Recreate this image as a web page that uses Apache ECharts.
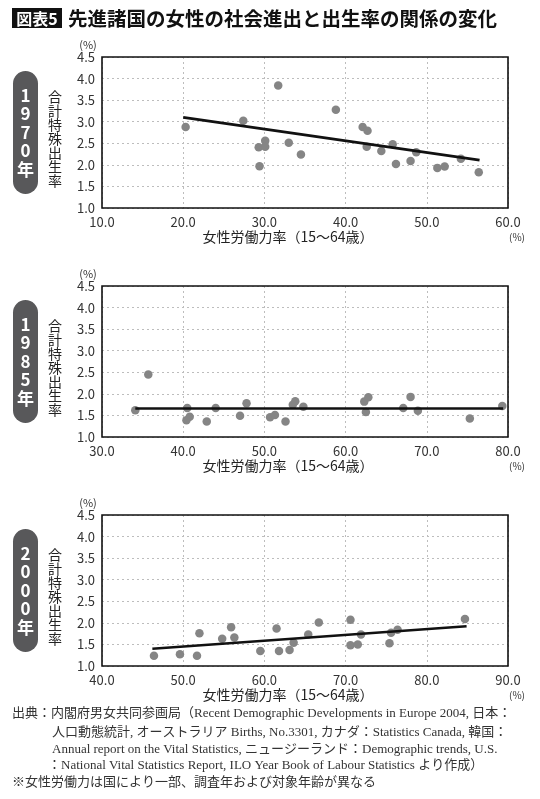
<!DOCTYPE html>
<html><head><meta charset="utf-8">
<script src="https://cdn.jsdelivr.net/npm/echarts@6/dist/echarts.min.js"></script>
<style>html,body{margin:0;padding:0;background:#fff}#c{width:540px;height:799px}</style>
</head><body><div id="c"></div><script>
// ---- data ----
const years = ['1970', '1985', '2000'];
const x1970 = [20.3, 27.4, 31.7, 29.3, 29.4, 30.1, 30.1, 33.0, 34.5, 38.8, 42.1, 42.7, 42.6, 44.4, 45.8, 46.2, 48.0, 48.7, 51.3, 52.2, 54.2, 56.4];
const y1970 = [2.88, 3.02, 3.84, 2.41, 1.97, 2.56, 2.42, 2.51, 2.24, 3.28, 2.88, 2.79, 2.42, 2.32, 2.48, 2.02, 2.09, 2.29, 1.93, 1.96, 2.14, 1.83];
const trendX1970 = [20.0, 56.5];
const trendY1970 = [3.10, 2.11];

const x1985 = [34.1, 35.7, 40.5, 40.4, 40.8, 42.9, 44.0, 47.0, 47.8, 50.7, 51.3, 52.6, 53.5, 53.8, 54.8, 62.3, 62.8, 62.5, 67.1, 68.0, 68.9, 75.3, 79.3];
const y1985 = [1.62, 2.45, 1.67, 1.39, 1.47, 1.36, 1.67, 1.49, 1.78, 1.46, 1.51, 1.36, 1.75, 1.83, 1.70, 1.82, 1.92, 1.58, 1.67, 1.93, 1.61, 1.43, 1.72];
const trendX1985 = [34.1, 79.4];
const trendY1985 = [1.66, 1.66];

const x2000 = [46.4, 49.6, 51.7, 52.0, 54.8, 55.9, 56.3, 59.5, 61.5, 61.8, 63.1, 63.6, 65.4, 66.7, 70.6, 70.6, 71.5, 71.9, 75.4, 75.6, 76.4, 84.7];
const y2000 = [1.24, 1.27, 1.24, 1.76, 1.63, 1.90, 1.66, 1.35, 1.87, 1.35, 1.37, 1.54, 1.73, 2.01, 2.07, 1.48, 1.50, 1.73, 1.53, 1.77, 1.84, 2.09];
const trendX2000 = [46.2, 84.9];
const trendY2000 = [1.40, 1.92];

const xMins = [10, 30, 40];
const xMaxs = [60, 80, 90];
const yMin = 1.0, yMax = 4.5, yStep = 0.5, xStep = 10;

const titleTag = '図表5';
const titleText = '先進諸国の女性の社会進出と出生率の関係の変化';
const yName = '合計特殊出生率';
const xName = '女性労働力率（15〜64歳）';
const unitText = '(%)';
const footerLines = [
  '出典：内閣府男女共同参画局（Recent Demographic Developments in Europe 2004, 日本：',
  '人口動態統計, オーストラリア Births, No.3301, カナダ：Statistics Canada, 韓国：',
  'Annual report on the Vital Statistics, ニュージーランド：Demographic trends, U.S.',
  '：National Vital Statistics Report, ILO Year Book of Labour Statistics より作成）',
  '※女性労働力は国により一部、調査年および対象年齢が異なる'
];

// ---- layout ----
const FONT = "'Noto Sans CJK JP', 'Noto Sans', sans-serif";
const SERIF = "'Liberation Serif', 'DejaVu Serif', 'Noto Sans CJK JP', serif";
const gridTops = [57, 286, 515];
const gridH = 151;
const gridL = 102, gridW = 406;

const scatterX = [x1970, x1985, x2000];
const scatterY = [y1970, y1985, y2000];
const trendX = [trendX1970, trendX1985, trendX2000];
const trendY = [trendY1970, trendY1985, trendY2000];

const zip = (a, b) => a.map((v, i) => [v, b[i]]);

const grids = [], xAxes = [], yAxes = [], series = [], graphics = [];
for (let i = 0; i < 3; i++) {
  const top = gridTops[i];
  grids.push({ left: gridL, top: top, width: gridW, height: gridH, show: false });
  xAxes.push({ type: 'value', gridIndex: i, min: xMins[i], max: xMaxs[i], interval: xStep,
    axisLine: { show: false }, axisTick: { show: false },
    axisLabel: { formatter: v => v.toFixed(1), color: '#333', fontSize: 13, fontFamily: FONT, margin: 8 },
    splitLine: { show: true, lineStyle: { color: '#bdbdbd', type: [2, 3], width: 1 } } });
  yAxes.push({ type: 'value', gridIndex: i, min: yMin, max: yMax, interval: yStep,
    axisLine: { show: false }, axisTick: { show: false },
    axisLabel: { formatter: v => v.toFixed(1), color: '#333', fontSize: 13, fontFamily: FONT, margin: 7 },
    splitLine: { show: true, lineStyle: { color: '#bdbdbd', type: [2, 3], width: 1 } } });
  series.push({ type: 'scatter', xAxisIndex: i, yAxisIndex: i, data: zip(scatterX[i], scatterY[i]),
    symbolSize: 8.5, itemStyle: { color: '#858585', opacity: 1 }, z: 2, silent: true });
  series.push({ type: 'line', xAxisIndex: i, yAxisIndex: i, data: zip(trendX[i], trendY[i]),
    symbol: 'none', lineStyle: { color: '#111', width: 2.6 }, z: 3, silent: true, animation: false });

  // plot frame on top
  graphics.push({ type: 'rect', z: 100, shape: { x: gridL, y: top, width: gridW, height: gridH },
    style: { fill: 'none', stroke: '#111', lineWidth: 1.6 }, silent: true });

  const cy = top + gridH / 2;
  // year badge
  graphics.push({ type: 'rect', shape: { x: 13, y: cy - 61.5, width: 25, height: 123, r: 12.5 },
    style: { fill: '#58585a' } });
  graphics.push({ type: 'text', x: 25.5, y: cy, style: {
    text: (years[i] + '年').split('').join('\n'), fill: '#fff', font: 'bold 17px ' + FONT,
    lineHeight: 18.5, align: 'center', verticalAlign: 'middle' } });
  // y axis name (vertical)
  graphics.push({ type: 'text', x: 55, y: cy + 6, style: {
    text: yName.split('').join('\n'), fill: '#222', font: '14px ' + FONT,
    lineHeight: 14, align: 'center', verticalAlign: 'middle' } });
  // (%) above y axis
  graphics.push({ type: 'text', x: 88, y: top - 12, style: {
    text: unitText, fill: '#333', font: '11px ' + FONT, align: 'center', verticalAlign: 'middle' } });
  // x axis name
  graphics.push({ type: 'text', x: 288, y: top + gridH + 29, style: {
    text: xName, fill: '#222', font: '14px ' + FONT, align: 'center', verticalAlign: 'middle' } });
  // (%) under right end
  graphics.push({ type: 'text', x: 517, y: top + gridH + 29, style: {
    text: unitText, fill: '#333', font: '10px ' + FONT, align: 'center', verticalAlign: 'middle' } });
}

// title
graphics.push({ type: 'rect', shape: { x: 12, y: 8, width: 50, height: 20 }, style: { fill: '#111' } });
graphics.push({ type: 'text', x: 37, y: 18.5, style: { text: titleTag, fill: '#fff',
  font: 'bold 16px ' + FONT, align: 'center', verticalAlign: 'middle' } });
graphics.push({ type: 'text', x: 68, y: 18.5, style: { text: titleText, fill: '#111',
  font: 'bold 19.5px ' + FONT, align: 'left', verticalAlign: 'middle' } });

// footer
const footX = [12, 52, 52, 48, 12];
const footY = [714, 733, 750, 766, 783];
footerLines.forEach((t, i) => {
  graphics.push({ type: 'text', x: footX[i], y: footY[i], style: { text: t, fill: '#333',
    font: '13px ' + SERIF, align: 'left', verticalAlign: 'middle' } });
});

const chart = echarts.init(document.getElementById('c'));
chart.setOption({
  animation: false,
  backgroundColor: '#fff',
  grid: grids, xAxis: xAxes, yAxis: yAxes, series: series,
  graphic: graphics
});
</script></body></html>
